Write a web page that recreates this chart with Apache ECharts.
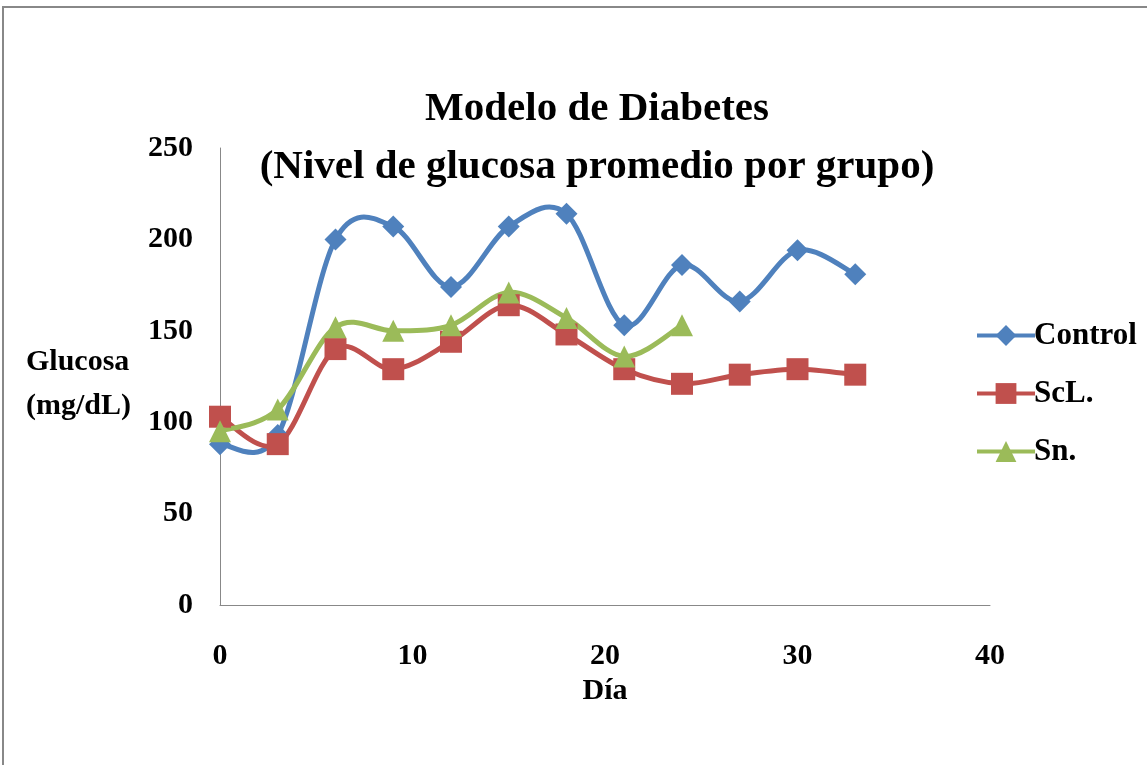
<!DOCTYPE html>
<html>
<head>
<meta charset="utf-8">
<title>Modelo de Diabetes</title>
<script src="https://cdn.jsdelivr.net/npm/echarts@6/dist/echarts.min.js"></script>
<style>
  html, body { margin: 0; padding: 0; background: #fff; }
  #chart { width: 1147px; height: 765px; }
</style>
</head>
<body>
<div id="chart"></div>
<script>
// dias de medicion
var dias = [0, 3, 6, 9, 12, 15, 18, 21, 24, 27, 30, 33]
var control = [88, 93, 200, 207, 174, 207, 214, 153, 186, 166, 194, 181]
var scl = [103, 88, 140, 129, 144, 164, 148, 129, 121, 126, 129, 126]
var sn = [95, 107, 152, 150, 153, 171, 157, 136, 153]
var xTicks = [0, 10, 20, 30, 40]
var yTicks = [0, 50, 100, 150, 200, 250]

var serif = 'Liberation Serif'

function pares (vals) {
  return vals.map(function (v, i) { return [dias[i], v] })
}

// curva suavizada tipo Excel (Catmull-Rom) sobre las coordenadas del eje
function curva (name, vals, color) {
  return {
    name: name,
    type: 'custom',
    coordinateSystem: 'cartesian2d',
    z: 2,
    silent: true,
    data: [[dias[0], vals[0]]],
    renderItem: function (params, api) {
      var p = vals.map(function (v, i) { return api.coord([dias[i], v]) })
      var segs = []
      for (var i = 0; i < p.length - 1; i++) {
        var p0 = p[i - 1] || p[i]
        var p1 = p[i]
        var p2 = p[i + 1]
        var p3 = p[i + 2] || p[i + 1]
        segs.push({
          type: 'bezierCurve',
          shape: {
            x1: p1[0], y1: p1[1],
            x2: p2[0], y2: p2[1],
            cpx1: p1[0] + (p2[0] - p0[0]) / 6,
            cpy1: p1[1] + (p2[1] - p0[1]) / 6,
            cpx2: p2[0] - (p3[0] - p1[0]) / 6,
            cpy2: p2[1] - (p3[1] - p1[1]) / 6
          },
          style: { fill: null, stroke: color, lineWidth: 5, lineCap: 'round' }
        })
      }
      return { type: 'group', children: segs }
    }
  }
}

function serie (name, vals, color, symbol, size) {
  return {
    name: name,
    type: 'line',
    z: 3,
    data: pares(vals),
    symbol: symbol,
    symbolSize: size,
    lineStyle: { color: color, width: 5, opacity: 0 },
    itemStyle: { color: color },
    emphasis: { disabled: true }
  }
}

var myChart = echarts.init(document.getElementById('chart'))
myChart.setOption({
  animation: false,
  title: {
    text: 'Modelo de Diabetes\n(Nivel de glucosa promedio por grupo)',
    left: 592,
    textAlign: 'center',
    top: 75,
    textStyle: {
      fontFamily: serif,
      fontWeight: 'bold',
      fontSize: 41,
      lineHeight: 58,
      color: '#000'
    }
  },
  legend: {
    orient: 'vertical',
    left: 970,
    top: 315,
    itemWidth: 58,
    itemHeight: 26,
    itemGap: 27,
    lineStyle: { width: 4, opacity: 1 },
    textStyle: {
      fontFamily: serif,
      fontWeight: 'bold',
      fontSize: 31,
      color: '#000',
      padding: [0, 0, 0, -6]
    },
    data: ['Control', 'ScL.', 'Sn.']
  },
  grid: {
    left: 220,
    right: 157,
    top: 148,
    bottom: 160
  },
  xAxis: {
    type: 'value',
    min: xTicks[0],
    max: xTicks[xTicks.length - 1],
    interval: 10,
    name: 'Día',
    nameLocation: 'middle',
    nameGap: 68,
    nameTextStyle: {
      fontFamily: serif,
      fontWeight: 'bold',
      fontSize: 30,
      color: '#000',
      verticalAlign: 'top'
    },
    axisLine: { show: true, lineStyle: { color: '#888', width: 1 } },
    axisTick: { show: false },
    splitLine: { show: false },
    axisLabel: {
      margin: 36,
      fontFamily: serif,
      fontWeight: 'bold',
      fontSize: 30,
      color: '#000'
    }
  },
  yAxis: {
    type: 'value',
    min: yTicks[0],
    max: yTicks[yTicks.length - 1],
    interval: 50,
    axisLine: { show: true, lineStyle: { color: '#888', width: 1 } },
    axisTick: { show: false },
    splitLine: { show: false },
    axisLabel: {
      margin: 27,
      fontFamily: serif,
      fontWeight: 'bold',
      fontSize: 30,
      color: '#000'
    }
  },
  graphic: [
    {
      type: 'rect',
      shape: { x: 3, y: 7, width: 1200, height: 800 },
      style: { fill: 'none', stroke: '#888', lineWidth: 2 },
      silent: true
    },
    {
      type: 'text',
      left: 26,
      top: 340,
      style: {
        text: 'Glucosa\n(mg/dL)',
        fontFamily: serif,
        fontWeight: 'bold',
        fontSize: 30,
        lineHeight: 44,
        fill: '#000'
      }
    }
  ],
  series: [
    curva('Control curva', control, '#4F81BD'),
    curva('ScL. curva', scl, '#C0504D'),
    curva('Sn. curva', sn, '#9BBB59'),
    serie('Control', control, '#4F81BD', 'diamond', 22),
    serie('ScL.', scl, '#C0504D', 'rect', 22),
    serie('Sn.', sn, '#9BBB59', 'triangle', 22)
  ]
})
</script>
</body>
</html>
